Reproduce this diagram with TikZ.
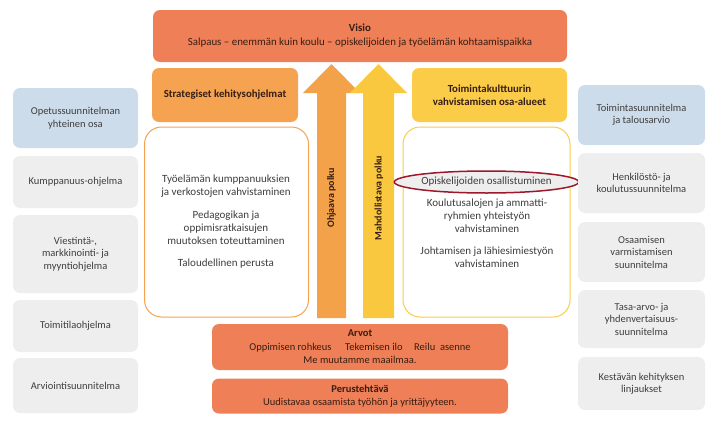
\documentclass[tikz,border=0pt]{standalone}
\usepackage{fontspec}
\setmainfont{Carlito}
\usepackage{tikz}
\usetikzlibrary{positioning, shapes.geometric}
\definecolor{visiocolor}{RGB}{238, 127, 86}
\definecolor{stratcolor}{RGB}{245, 163, 80}
\definecolor{cultcolor}{RGB}{250, 204, 72}
\definecolor{steercolor}{RGB}{244, 162, 74}
\definecolor{enablecolor}{RGB}{250, 200, 62}
\definecolor{plancolor}{RGB}{205, 220, 234}
\definecolor{progcolor}{RGB}{238, 238, 238}
\definecolor{circlecolor}{RGB}{158, 24, 44}
\definecolor{darktext}{RGB}{55, 30, 20}
\definecolor{greytext}{RGB}{62, 62, 62}

\begin{document}
\begin{tikzpicture}[
    x=1pt, y=-1pt,
    headbox/.style={fill=visiocolor, rounded corners=7pt, align=flush center, text=darktext, inner sep=0pt, text width=290pt, font=\fontsize{10.9}{14}\selectfont},
    stratbox/.style={fill=stratcolor, rounded corners=7pt, align=flush center, text=darktext, inner sep=0pt, text width=140pt, font=\fontsize{10.8}{13.5}\selectfont\bfseries, minimum width=146pt, minimum height=54pt},
    cultbox/.style={stratbox, fill=cultcolor, text width=150pt, minimum width=155pt},
    area/.style={draw, fill=white, line width=1pt, rounded corners=17pt, minimum width=164pt, minimum height=190pt},
    sidebox/.style={fill=progcolor, rounded corners=7pt, align=flush center, text=greytext, inner sep=0pt, text width=120pt, font=\fontsize{10.5}{12.5}\selectfont},
    planbox/.style={sidebox, fill=plancolor},
    item/.style={align=flush center, text=greytext, inner sep=0pt, text width=160pt, font=\fontsize{11}{13}\selectfont},
    pathtext/.style={rotate=90, text=darktext, inner sep=0pt, font=\fontsize{10}{11}\selectfont\bfseries}
]
    \useasboundingbox (0, 0) rectangle (720, 423);

    % Vision
    \node[headbox, text width=410pt, minimum width=414pt, minimum height=52pt] (visio) at (360, 36) {\textbf{Visio}\\Salpaus – enemmän kuin koulu – opiskelijoiden ja työelämän kohtaamispaikka};

    % Column titles
    \node[stratbox] (strat) at (225, 95) {Strategiset kehitysohjelmat};
    \node[cultbox] (cult) at (489.5, 95) {Toimintakulttuurin\\vahvistamisen osa-alueet};

    % Paths
    \fill[steercolor] (317, 318) -- (317, 93) -- (303, 93) -- (331.5, 64) -- (360, 93) -- (346, 93) -- (346, 318) -- cycle;
    \fill[enablecolor] (363, 318) -- (363, 93) -- (350, 93) -- (378.5, 64) -- (407, 93) -- (394, 93) -- (394, 318) -- cycle;
    \node[pathtext] (steer) at (331.5, 198) {Ohjaava polku};
    \node[pathtext] (enable) at (379, 198) {Mahdollistava polku};

    % Development programmes
    \node[area, draw=stratcolor] (progs) at (226.5, 222) {};
    \node[item] (work) at (226, 186.5) {Työelämän kumppanuuksien\\ja verkostojen vahvistaminen};
    \node[item] (peda) at (226, 228) {Pedagogikan ja\\oppimisratkaisujen\\muutoksen toteuttaminen};
    \node[item] (econ) at (226, 264) {Taloudellinen perusta};

    % Culture areas
    \node[area, draw=cultcolor, minimum width=167pt] (areas) at (486.5, 222) {};
    \node[ellipse, draw=circlecolor, fill=progcolor, line width=1.5pt, inner sep=0pt, minimum width=159pt, minimum height=22pt, text=greytext, font=\fontsize{11}{13}\selectfont] (part) at (486.5, 182) {Opiskelijoiden osallistuminen};
    \node[item] (coop) at (487, 215.5) {Koulutusalojen ja ammatti-\\ryhmien yhteistyön\\vahvistaminen};
    \node[item] (lead) at (487, 257) {Johtamisen ja lähiesimiestyön\\vahvistaminen};

    % Values and basic task
    \node[headbox, minimum width=296pt, minimum height=46pt, font=\fontsize{10.5}{13.5}\selectfont] (values) at (360, 347) {\textbf{Arvot}\\Oppimisen rohkeus\hspace{1.3em}Tekemisen ilo\hspace{1.1em}Reilu\ \ asenne\\Me muutamme maailmaa.};
    \node[headbox, minimum width=296pt, minimum height=35pt, font=\fontsize{10.5}{12.5}\selectfont] (task) at (360, 396) {\textbf{Perustehtävä}\\Uudistavaa osaamista työhön ja yrittäjyyteen.};

    % Left column
    \node[planbox, minimum width=125pt, minimum height=60pt] (curr) at (75.5, 118) {Opetussuunnitelman\\yhteinen osa};
    \node[sidebox, minimum width=125pt, minimum height=52pt] (partner) at (75.5, 182) {Kumppanuus-ohjelma};
    \node[sidebox, minimum width=125pt, minimum height=78pt] (comm) at (75.5, 254) {Viestintä-,\\markkinointi- ja\\myyntiohjelma};
    \node[sidebox, minimum width=125pt, minimum height=52pt] (premises) at (75.5, 326) {Toimitilaohjelma};
    \node[sidebox, minimum width=125pt, minimum height=55pt] (eval) at (75.5, 385.5) {Arviointisuunnitelma};

    % Right column
    \node[planbox, minimum width=127pt, minimum height=60pt] (budget) at (641.5, 115) {Toimintasuunnitelma\\ja talousarvio};
    \node[sidebox, minimum width=127pt, minimum height=60pt] (staff) at (641.5, 183) {Henkilöstö- ja\\koulutussuunnitelma};
    \node[sidebox, minimum width=127pt, minimum height=60pt] (skills) at (641.5, 252) {Osaamisen\\varmistamisen\\suunnitelma};
    \node[sidebox, minimum width=127pt, minimum height=58pt] (equal) at (641.5, 319) {Tasa-arvo- ja\\yhdenvertaisuus-\\suunnitelma};
    \node[sidebox, minimum width=127pt, minimum height=53pt] (sustain) at (641.5, 383.5) {Kestävän kehityksen\\linjaukset};

\end{tikzpicture}
\end{document}
